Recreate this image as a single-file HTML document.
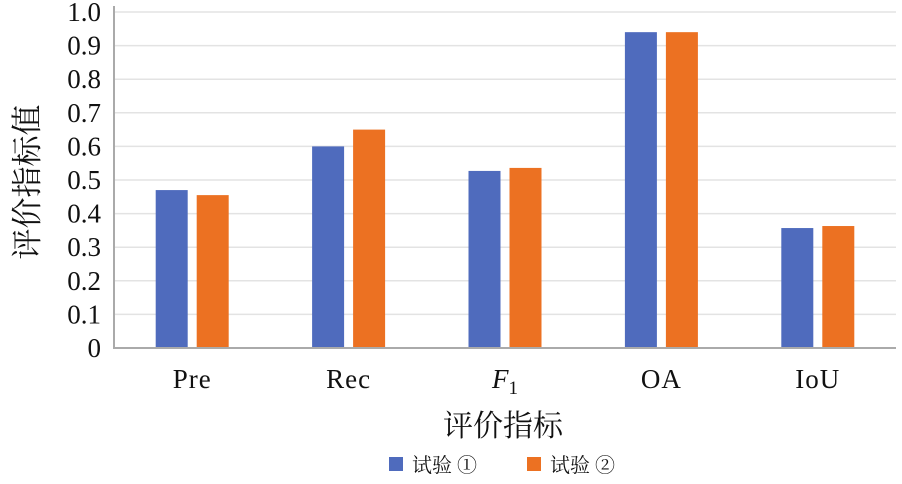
<!DOCTYPE html>
<html><head><meta charset="utf-8"><style>
body{margin:0;background:#fff;}
svg text{font-family:"Liberation Serif","Noto Serif CJK SC",serif;fill:#111;}
</style></head><body>
<svg width="902" height="479" viewBox="0 0 902 479">
<g id="grid"></g><g id="bars"></g><g id="labels"></g>
<line x1="114" y1="6" x2="114" y2="348" stroke="#aaa" stroke-width="2"/>
<line x1="113" y1="348" x2="896" y2="348" stroke="#aaa" stroke-width="2"/>
<text x="0" y="0" transform="translate(38,182) rotate(-90)" text-anchor="middle" font-size="31">评价指标值</text>
<text x="503" y="436" text-anchor="middle" font-size="30">评价指标</text>
<g>
<rect x="389" y="457" width="14" height="14" fill="#4f6bbd"/>
<text x="412" y="472" font-size="20">试验 ①</text>
<rect x="527" y="457" width="14" height="14" fill="#ec7122"/>
<text x="550" y="472" font-size="20">试验 ②</text>
</g>
</svg>
<script>
const categories=["Pre","Rec","F1","OA","IoU"];
const series1=[0.47,0.60,0.527,0.94,0.357];
const series2=[0.455,0.65,0.536,0.94,0.363];
const yTicks=[0,0.1,0.2,0.3,0.4,0.5,0.6,0.7,0.8,0.9,1.0];
const yTickLabels=["0","0.1","0.2","0.3","0.4","0.5","0.6","0.7","0.8","0.9","1.0"];
const NS="http://www.w3.org/2000/svg";
const x0=114,x1=896,yb=348,yt=12;
function y(v){return yb-(yb-yt)*v;}
function xc(i){return x0+(x1-x0)/categories.length*(i+0.5);}
const grid=document.getElementById('grid'),bars=document.getElementById('bars'),labels=document.getElementById('labels');
yTicks.forEach((t,i)=>{
 if(t>0){const l=document.createElementNS(NS,'line');
 l.setAttribute('x1',x0);l.setAttribute('x2',x1);l.setAttribute('y1',y(t));l.setAttribute('y2',y(t));
 l.setAttribute('stroke','#e3e3e3');l.setAttribute('stroke-width','1.5');
 
 
 grid.appendChild(l);}
 const tx=document.createElementNS(NS,'text');
 tx.setAttribute('x',101);tx.setAttribute('y',y(t)+9);tx.setAttribute('text-anchor','end');tx.setAttribute('font-size','27');
 tx.textContent=yTickLabels[i];
 
 
 labels.appendChild(tx);
});
const bw=32,gap=9;
categories.forEach((c,i)=>{
 const cx=xc(i);
 [[series1,'#4f6bbd',cx-gap/2-bw,'bar-series1-'],[series2,'#ec7122',cx+gap/2,'bar-series2-']].forEach(([s,col,bx,nm])=>{
  const r=document.createElementNS(NS,'rect');
  r.setAttribute('x',bx);r.setAttribute('y',y(s[i]));r.setAttribute('width',bw);r.setAttribute('height',yb-y(s[i]));r.setAttribute('fill',col);
  
  
  bars.appendChild(r);
 });
 const tx=document.createElementNS(NS,'text');
 tx.setAttribute('x',cx);tx.setAttribute('y',388);tx.setAttribute('text-anchor','middle');tx.setAttribute('font-size','27');
 if(c==="F1"){tx.innerHTML='<tspan font-style="italic">F</tspan><tspan font-size="19" dy="6">1</tspan>';}
 else{tx.textContent=c;tx.setAttribute('letter-spacing','1');}
 
 
 labels.appendChild(tx);
});
</script>
</body></html>
